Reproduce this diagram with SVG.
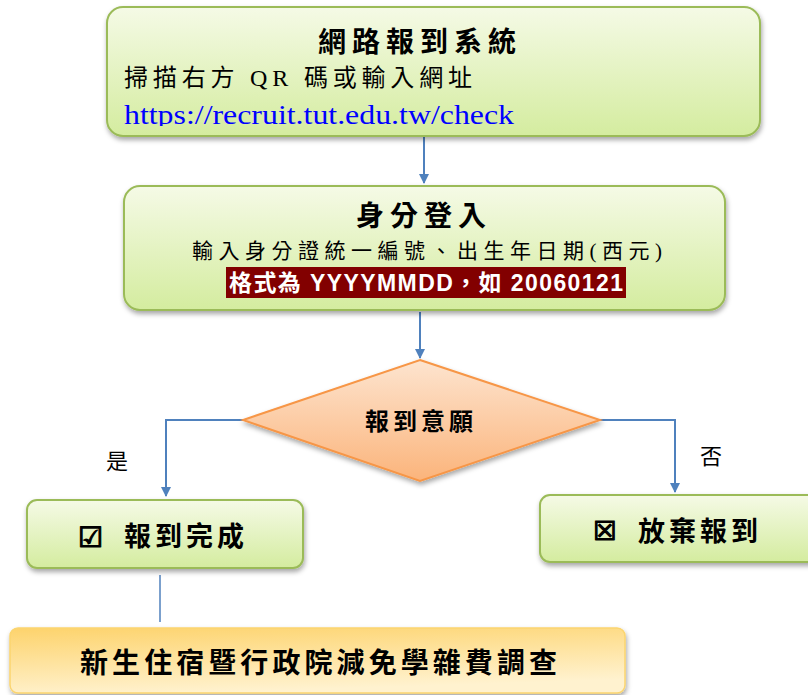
<svg xmlns="http://www.w3.org/2000/svg" width="808" height="695" viewBox="0 0 808 695">
<style>
.box{stroke:#9bbb59;stroke-width:2;fill:url(#g);filter:url(#sh)}
.cj{font-family:"Noto Sans CJK TC","Noto Sans",sans-serif;fill:#000}
.b{font-weight:bold}
.con{fill:none;stroke:#4f81bd;stroke-width:2}
.sym{font-family:"DejaVu Sans",sans-serif;font-weight:bold;stroke:#000;stroke-width:1.2}
</style>
<defs>
<linearGradient id="g" x1="0" y1="0" x2="0" y2="1"><stop offset="0" stop-color="#f5fae6"/><stop offset="1" stop-color="#d4ec9f"/></linearGradient>
<linearGradient id="go" x1="0" y1="0" x2="0" y2="1"><stop offset="0" stop-color="#fde4cf"/><stop offset="1" stop-color="#fbb47b"/></linearGradient>
<linearGradient id="gy" x1="0" y1="0" x2="0.3" y2="1"><stop offset="0" stop-color="#fdd36c"/><stop offset="1" stop-color="#fff2cf"/></linearGradient>
<filter id="sh" x="-10%" y="-20%" width="120%" height="150%"><feDropShadow dx="1" dy="3" stdDeviation="2.5" flood-color="#000" flood-opacity="0.35"/></filter>
<marker id="ar" viewBox="0 0 10 10" refX="9" refY="5" markerWidth="5" markerHeight="5" orient="auto" markerUnits="strokeWidth"><path d="M0,0 L10,5 L0,10 z" fill="#4f81bd"/></marker>
<clipPath id="c1"><rect x="107" y="7" width="653" height="119"/></clipPath>
</defs>
<g id="connectors">
<path class="con" d="M424,137 V183" marker-end="url(#ar)"/>
<path class="con" d="M420,312 V358" marker-end="url(#ar)"/>
<path class="con" d="M243,420 H166 V496" marker-end="url(#ar)"/>
<path class="con" d="M600,420 H675 V492" marker-end="url(#ar)"/>
<path class="con" d="M160,575 V622" style="stroke-width:1.5"/>
<text class="cj" x="106" y="469" font-size="22">是</text>
<text class="cj" x="700" y="464" font-size="22">否</text>
</g>
<g id="n1">
<rect class="box" x="107" y="7" width="653" height="129" rx="16"/>
<text class="cj b" x="420" y="52" font-size="28" text-anchor="middle" letter-spacing="6">網路報到系統</text>
<text x="124" y="86" font-size="24" font-family="'Liberation Serif','Noto Sans CJK TC',serif" textLength="348">掃描右方 QR 碼或輸入網址</text>
<g clip-path="url(#c1)"><text x="124" y="124" font-size="28" fill="#0000ff" font-family="'Liberation Serif',serif" textLength="390" lengthAdjust="spacingAndGlyphs">https://recruit.tut.edu.tw/check</text></g>
</g>
<g id="n2">
<rect class="box" x="124" y="186" width="601" height="124" rx="16"/>
<text class="cj b" x="424" y="226" font-size="28" text-anchor="middle" letter-spacing="6">身分登入</text>
<text x="192" y="258" font-size="21" font-family="'Liberation Serif','Noto Sans CJK TC',serif" textLength="470">輸入身分證統一編號、出生年日期(西元)</text>
<rect x="226" y="267" width="400" height="31" fill="#820000"/>
<text x="229" y="291" font-size="23" font-weight="bold" fill="#fff" font-family="'Liberation Sans','Noto Sans CJK TC',sans-serif" textLength="394">格式為 YYYYMMDD，如 20060121</text>
</g>
<g id="n3">
<polygon points="420,360 600,420 420,481 243,420" fill="url(#go)" stroke="#f79646" stroke-width="2" filter="url(#sh)"/>
<text class="cj b" x="421" y="430" font-size="24" text-anchor="middle" letter-spacing="4">報到意願</text>
</g>
<g id="n4">
<rect class="box" x="27" y="500" width="276" height="68" rx="10"/>
<text class="sym" x="78" y="547" font-size="28">☑</text>
<text class="cj b" x="124" y="546" font-size="27" letter-spacing="4">報到完成</text>
</g>
<g id="n5">
<rect class="box" x="540" y="495" width="280" height="67" rx="10"/>
<text class="sym" x="593" y="540" font-size="26">☒</text>
<text class="cj b" x="638" y="541" font-size="27" letter-spacing="4">放棄報到</text>
</g>
<g id="n6">
<rect x="10" y="628" width="615" height="65" rx="8" fill="url(#gy)" stroke="#fbd56f" stroke-width="1.5" filter="url(#sh)"/>
<text class="cj b" x="80" y="673" font-size="28" textLength="477">新生住宿暨行政院減免學雜費調查</text>
</g>
</svg>
